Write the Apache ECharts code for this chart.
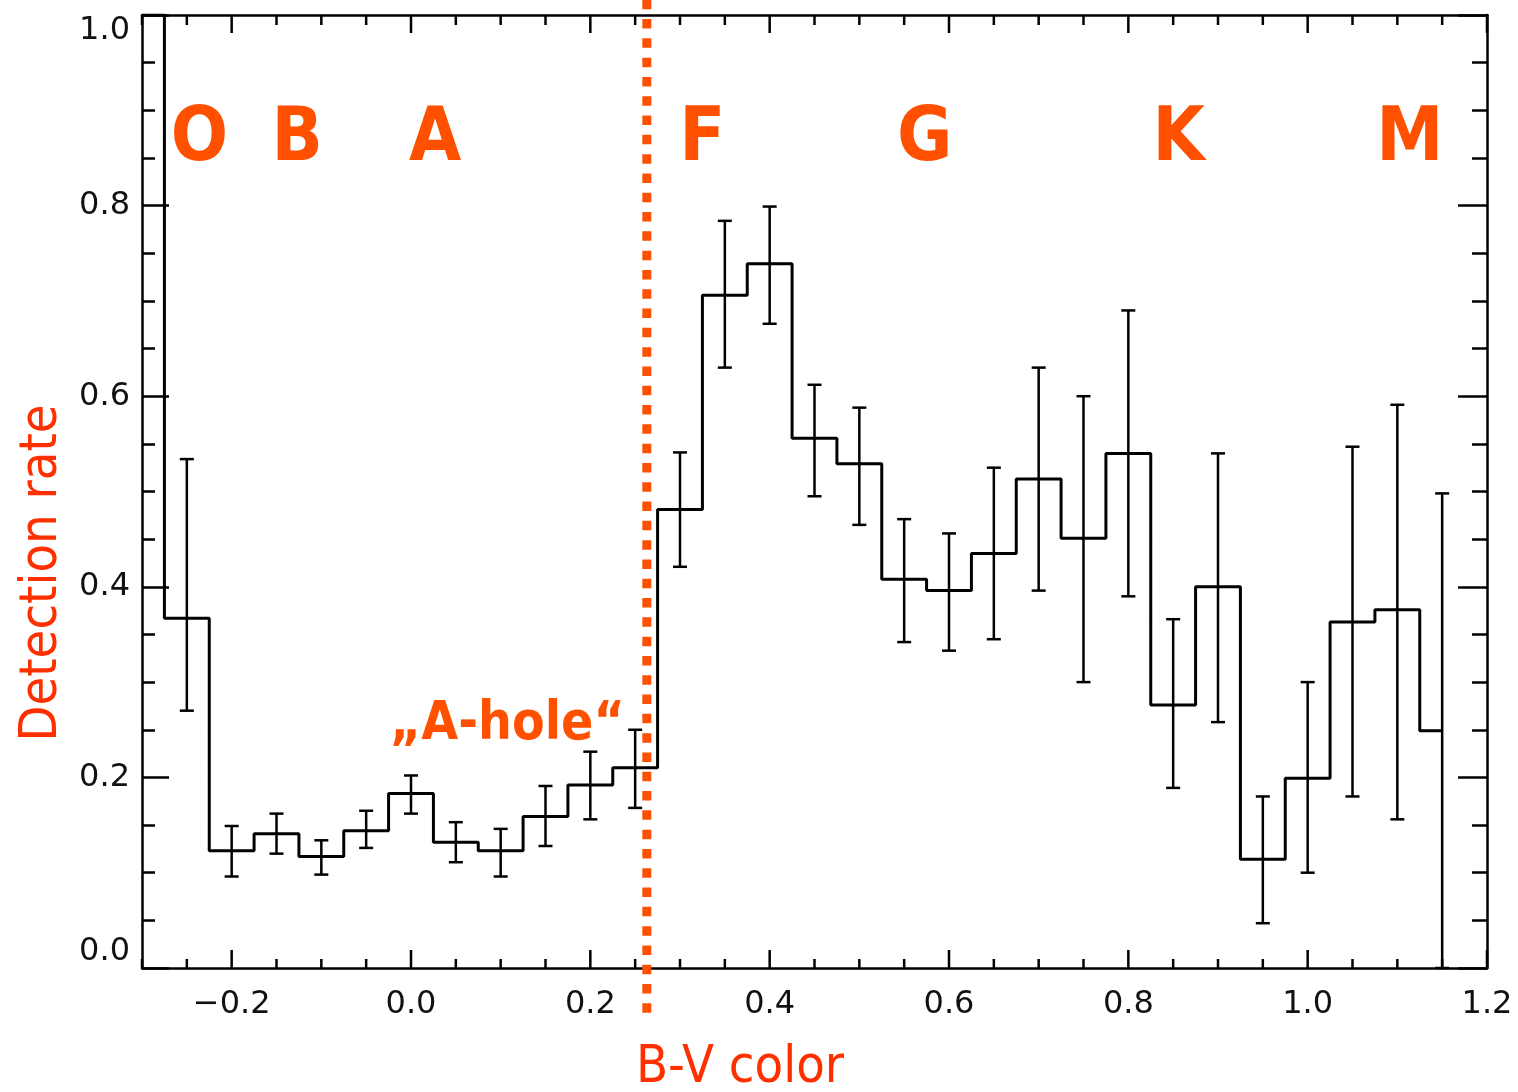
<!DOCTYPE html>
<html><head><meta charset="utf-8">
<script src="https://cdn.jsdelivr.net/npm/echarts@6/dist/echarts.min.js"></script>
<style>html,body{margin:0;padding:0;background:#fff}#c{width:1518px;height:1092px}</style>
</head><body><div id="c"></div>
<script>
// ---- data ----
const binCenters = [-0.30,-0.25,-0.20,-0.15,-0.10,-0.05,0.00,0.05,0.10,0.15,0.20,0.25,0.30,0.35,0.40,0.45,0.50,0.55,0.60,0.65,0.70,0.75,0.80,0.85,0.90,0.95,1.00,1.05,1.10,1.15];
const detectionRate = [1.00,0.367,0.123,0.141,0.117,0.144,0.183,0.132,0.123,0.159,0.192,0.210,0.481,0.706,0.739,0.556,0.529,0.408,0.396,0.435,0.513,0.451,0.540,0.276,0.400,0.114,0.199,0.363,0.376,0.249];
const errLow  = [null,0.270,0.096,0.120,0.098,0.126,0.162,0.111,0.096,0.128,0.156,0.168,0.421,0.630,0.676,0.495,0.465,0.342,0.333,0.345,0.396,0.300,0.390,0.189,0.258,0.047,0.100,0.180,0.156,0.000];
const errHigh = [null,0.534,0.149,0.162,0.134,0.165,0.202,0.153,0.146,0.191,0.227,0.250,0.541,0.784,0.799,0.612,0.588,0.471,0.456,0.525,0.630,0.600,0.690,0.366,0.540,0.180,0.300,0.547,0.591,0.498];
const xTickValues = [-0.30,-0.25,-0.20,-0.15,-0.10,-0.05,0.00,0.05,0.10,0.15,0.20,0.25,0.30,0.35,0.40,0.45,0.50,0.55,0.60,0.65,0.70,0.75,0.80,0.85,0.90,0.95,1.00,1.05,1.10,1.15,1.20];
const xMajorTicks = [-0.2,0.0,0.2,0.4,0.6,0.8,1.0,1.2];
const spectralClasses = ['O','B','A','F','G','K','M'];
const spectralX = [-0.236,-0.127,0.027,0.325,0.573,0.856,1.114];
const spectralY = 0.868;
const holeLabel = '\u201EA-hole\u201C';
const holeX = 0.1075, holeY = 0.255;
const dividerX = 0.263;
const dividerSpan = [-0.052, 1.016];

const ORANGE = '#ff5000';
const TITLE = '#ff3000';
const INK = '#111';

const stepData = binCenters.map((x,i)=>[x, detectionRate[i]]);
const errData = [];
binCenters.forEach((x,i)=>{ if(errLow[i]!==null) errData.push([x, errLow[i], errHigh[i]]); });
const tickData = xTickValues.map(v => [v, 0, 1]);

const isMajor = v => xMajorTicks.some(m => Math.abs(m - Number(v)) < 1e-6);
const fmtX = v => { const r = Math.round(Number(v)*10)/10; return (r<0?'\u2212':'') + Math.abs(r).toFixed(1); };
const ts = () => ({color:'#000', width:2.5});

const chart = echarts.init(document.getElementById('c'), null, {renderer:'canvas'});
const option = {
  backgroundColor:'#fff',
  animation:false,
  grid:{left:142, right:31, top:15, bottom:124, containLabel:false, outerBoundsMode:'none'},
  xAxis:[
    {type:'value', min:-0.3, max:1.2, position:'bottom', splitLine:{show:false},
      axisLine:{show:true, onZero:false, lineStyle:{color:'#000', width:2.5}},
      axisTick:{show:false},
      axisLabel:{show:true, customValues:xMajorTicks, formatter:fmtX, margin:21,
        fontFamily:'DejaVu Sans', fontSize:32, color:INK},
      name:'B-V color', nameLocation:'middle', nameGap:74,
      nameTextStyle:{fontFamily:'DejaVu Sans Condensed, DejaVu Sans', fontSize:52, color:TITLE, padding:[0,149,0,0]}
    },
    {type:'value', min:-0.3, max:1.2, position:'top', splitLine:{show:false},
      axisLine:{show:true, onZero:false, lineStyle:{color:'#000', width:2.5}},
      axisTick:{show:false}, axisLabel:{show:false}}
  ],
  yAxis:[
    {type:'value', min:0, max:1, interval:0.2, position:'left', splitLine:{show:false},
      axisLine:{show:true, onZero:false, lineStyle:{color:'#000', width:2.5}},
      axisTick:{show:true, inside:true, length:27, lineStyle:ts()},
      minorTick:{show:true, splitNumber:4, length:13, lineStyle:ts()},
      minorSplitLine:{show:false},
      axisLabel:{show:true, margin:12, formatter:v=>v.toFixed(1), fontFamily:'DejaVu Sans', fontSize:32, color:INK,
        verticalAlignMinLabel:'bottom', verticalAlignMaxLabel:'top'},
      name:'Detection rate', nameLocation:'middle', nameGap:74, nameRotate:90,
      nameTextStyle:{fontFamily:'DejaVu Sans Condensed, DejaVu Sans', fontSize:52, color:TITLE, padding:[0,163,0,0]}
    },
    {type:'value', min:0, max:1, interval:0.2, position:'right', splitLine:{show:false},
      axisLine:{show:true, onZero:false, lineStyle:{color:'#000', width:2.5}},
      axisTick:{show:true, inside:true, length:29, lineStyle:ts()},
      minorTick:{show:true, splitNumber:4, length:15, lineStyle:ts()},
      axisLabel:{show:false}}
  ],
  series:[
    {type:'custom', name:'xticks', xAxisIndex:0, yAxisIndex:0, z:10, clip:false,
      data: tickData, encode:{x:0, y:[1,2]},
      renderItem:(params, api)=>{
        const v = api.value(0);
        const b = api.coord([v, api.value(1)]);
        const t = api.coord([v, api.value(2)]);
        const maj = isMajor(v);
        const lb = maj ? 18 : 9, lt = maj ? 18 : 10;
        const st = {stroke:'#000', lineWidth:2.5};
        return {type:'group', children:[
          {type:'line', shape:{x1:b[0], y1:b[1], x2:b[0], y2:b[1]-lb}, style:st},
          {type:'line', shape:{x1:t[0], y1:t[1], x2:t[0], y2:t[1]+lt}, style:st}
        ]};
      }},
    {type:'line', name:'rate', xAxisIndex:0, yAxisIndex:0, step:'middle', data:stepData,
      symbol:'none', lineStyle:{color:'#000', width:3}, clip:true, z:3},
    {type:'custom', name:'err', xAxisIndex:0, yAxisIndex:0, data:errData, z:3,
      encode:{x:0, y:[1,2]},
      renderItem:(params, api)=>{
        const x = api.value(0);
        const lo = api.coord([x, api.value(1)]);
        const hi = api.coord([x, api.value(2)]);
        const hw = 7;
        const st = {stroke:'#000', lineWidth:2.5};
        return {type:'group', children:[
          {type:'line', shape:{x1:lo[0], y1:lo[1], x2:hi[0], y2:hi[1]}, style:st},
          {type:'line', shape:{x1:hi[0]-hw, y1:hi[1], x2:hi[0]+hw, y2:hi[1]}, style:st},
          {type:'line', shape:{x1:lo[0]-hw, y1:lo[1], x2:lo[0]+hw, y2:lo[1]}, style:st}
        ]};
      }},
    {type:'custom', name:'divider', xAxisIndex:0, yAxisIndex:0, data:[[dividerX]], z:5, clip:false,
      encode:{x:0},
      renderItem:(params, api)=>{
        const x = api.value(0);
        const top = api.coord([x, dividerSpan[1]]);
        const bot = api.coord([x, dividerSpan[0]]);
        return {type:'line', shape:{x1:top[0], y1:top[1], x2:bot[0], y2:bot[1]},
          style:{stroke:ORANGE, lineWidth:9, lineDash:[9.5,9.8], lineCap:'butt'}};
      }},
    {type:'custom', name:'classes', xAxisIndex:0, yAxisIndex:0, z:6, clip:false,
      data: spectralClasses.map((c,i)=>[spectralX[i], spectralY]),
      encode:{x:0, y:1},
      renderItem:(params, api)=>{
        const p = api.coord([api.value(0), api.value(1)]);
        return {type:'text', x:p[0], y:p[1], style:{text:spectralClasses[params.dataIndex],
          fontFamily:'DejaVu Sans Condensed, DejaVu Sans', fontWeight:'bold', fontSize:75, fill:ORANGE,
          align:'center', verticalAlign:'middle'}};
      }},
    {type:'custom', name:'hole', xAxisIndex:0, yAxisIndex:0, z:6, clip:false,
      data:[[holeX, holeY]], encode:{x:0, y:1},
      renderItem:(params, api)=>{
        const p = api.coord([api.value(0), api.value(1)]);
        return {type:'text', x:p[0], y:p[1], style:{text:holeLabel,
          fontFamily:'DejaVu Sans Condensed, DejaVu Sans', fontWeight:'bold', fontSize:53, fill:ORANGE,
          align:'center', verticalAlign:'middle'}};
      }}
  ]
};
chart.setOption(option);
</script></body></html>
